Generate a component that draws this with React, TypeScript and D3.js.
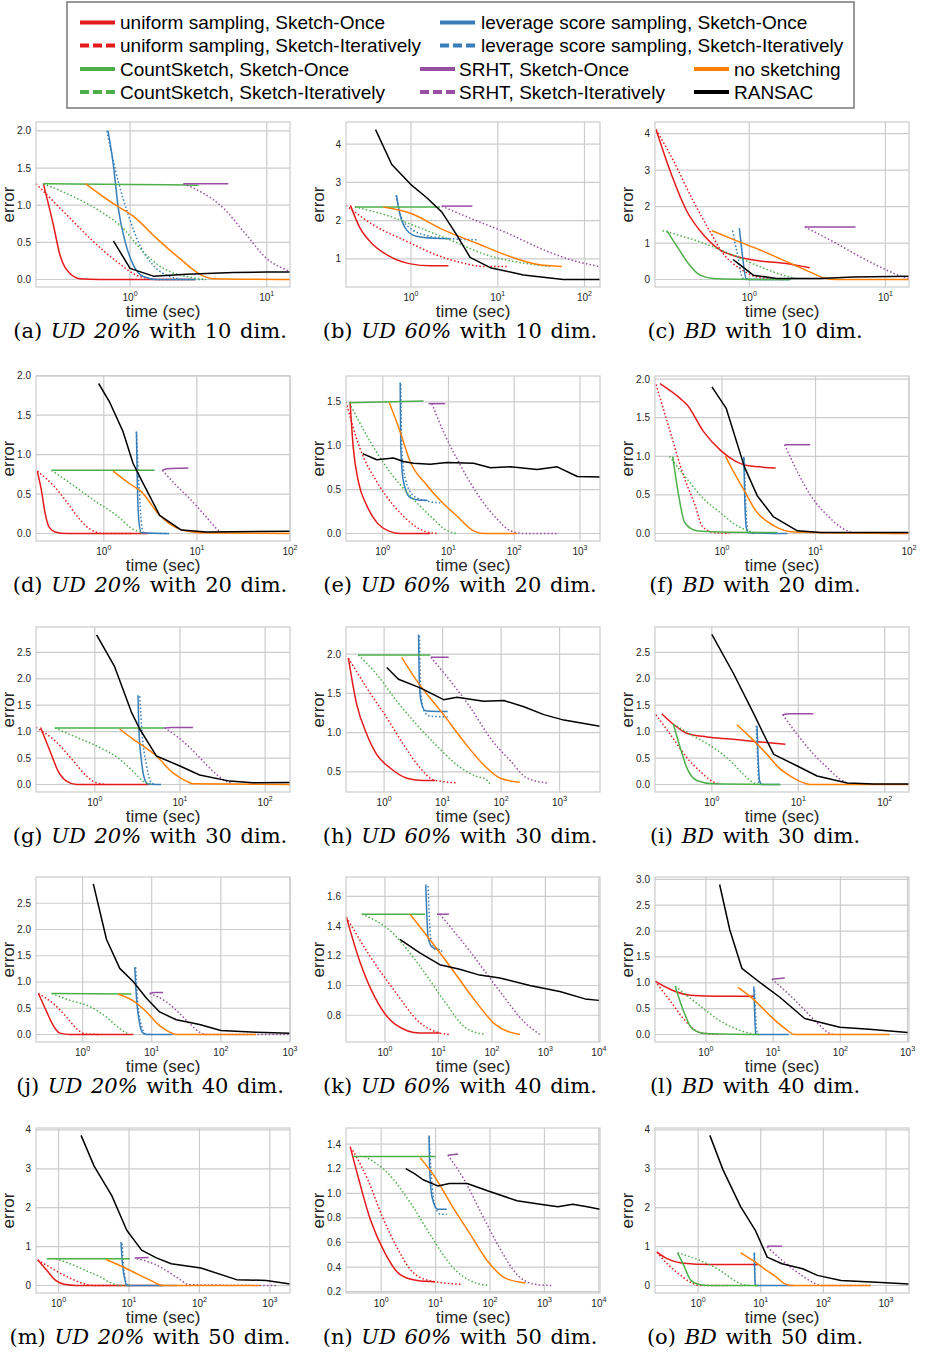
import React from 'react';
import * as d3 from 'd3';

type Pt = [number, number];
type PanelData = Record<string, Pt[]>;

// series definitions (legend order)
const SERIES = [
  {key: 'uo', label: 'uniform sampling, Sketch-Once', color: '#e41a1c', dotted: false},
  {key: 'ui', label: 'uniform sampling, Sketch-Iteratively', color: '#e41a1c', dotted: true},
  {key: 'lo', label: 'leverage score sampling, Sketch-Once', color: '#377eb8', dotted: false},
  {key: 'li', label: 'leverage score sampling, Sketch-Iteratively', color: '#377eb8', dotted: true},
  {key: 'co', label: 'CountSketch, Sketch-Once', color: '#4daf4a', dotted: false},
  {key: 'ci', label: 'CountSketch, Sketch-Iteratively', color: '#4daf4a', dotted: true},
  {key: 'so', label: 'SRHT, Sketch-Once', color: '#984ea3', dotted: false},
  {key: 'si', label: 'SRHT, Sketch-Iteratively', color: '#984ea3', dotted: true},
  {key: 'ns', label: 'no sketching', color: '#ff7f00', dotted: false},
  {key: 'ra', label: 'RANSAC', color: '#000000', dotted: false},
];

const DATASETS = ['UD 20%', 'UD 60%', 'BD'];
const DIMS = [10, 20, 30, 40, 50];
const LETTERS = 'abcdefghijklmno'.split('');

const X_DOMAINS: Pt[] = [
  [0.205, 14.8], [0.178, 151], [0.203, 14.9],
  [0.187, 100], [0.276, 2018], [0.192, 100],
  [0.204, 196], [0.223, 4910], [0.22, 191],
  [0.212, 1000], [0.187, 10500], [0.175, 1050],
  [0.479, 1930], [0.226, 10500], [0.205, 2330],
];
const Y_DOMAINS: Pt[] = [
  [-0.101, 2.12], [0.265, 4.58], [-0.205, 4.32],
  [-0.095, 1.995], [-0.0855, 1.795], [-0.097, 2.04],
  [-0.142, 2.98], [0.2445, 2.3455], [-0.142, 2.98],
  [-0.143, 3.0], [0.62, 1.73], [-0.145, 3.045],
  [-0.193, 4.05], [0.189, 1.531], [-0.193, 4.05],
];
const Y_TICKS: number[][] = [
  [0, 0.5, 1, 1.5, 2], [1, 2, 3, 4], [0, 1, 2, 3, 4],
  [0, 0.5, 1, 1.5, 2], [0, 0.5, 1, 1.5], [0, 0.5, 1, 1.5, 2],
  [0, 0.5, 1, 1.5, 2, 2.5], [0.5, 1, 1.5, 2], [0, 0.5, 1, 1.5, 2, 2.5],
  [0, 0.5, 1, 1.5, 2, 2.5], [0.8, 1, 1.2, 1.4, 1.6], [0, 0.5, 1, 1.5, 2, 2.5, 3],
  [0, 1, 2, 3, 4], [0.2, 0.4, 0.6, 0.8, 1, 1.2, 1.4], [0, 1, 2, 3, 4],
];

// (a) UD 20%, 10 dim
const panelA: PanelData = {
  uo: [[0.232, 1.29], [0.275, 0.73], [0.307, 0.33], [0.364, 0.08], [0.43, 0.01], [0.6, 0], [3.0, 0]],
  ui: [[0.205, 1.29], [0.344, 0.87], [0.54, 0.51], [0.8, 0.24], [1.18, 0.04], [1.66, 0], [2.5, 0]],
  lo: [[0.69, 2.0], [0.755, 1.54], [0.82, 0.96], [0.92, 0.51], [1.06, 0.19], [1.25, 0.04], [1.57, 0], [3.0, 0]],
  li: [[0.675, 2.0], [0.82, 1.32], [0.97, 0.87], [1.18, 0.46], [1.48, 0.19], [1.96, 0.04], [2.6, 0], [3.5, 0]],
  co: [[0.232, 1.29], [1.0, 1.28], [3.17, 1.27]],
  ci: [[0.232, 1.29], [0.41, 1.09], [0.64, 0.89], [0.845, 0.73], [1.25, 0.37], [1.75, 0.15], [2.6, 0.04], [3.6, 0]],
  so: [[2.46, 1.29], [5.24, 1.29]],
  si: [[2.46, 1.29], [4.82, 0.96], [7.1, 0.6], [10, 0.28], [14.8, 0.1], [17, 0.03]],
  ns: [[0.47, 1.29], [0.755, 1.02], [1.06, 0.85], [1.57, 0.55], [2.32, 0.28], [3.25, 0.07], [4.07, 0.01], [15, 0]],
  ra: [[0.755, 0.52], [1.0, 0.15], [1.48, 0.045], [2.6, 0.07], [5.7, 0.094], [10, 0.1], [15, 0.1]],
};
// (b) UD 60%, 10 dim
const panelB: PanelData = {
  uo: [[0.2, 2.4], [0.258, 1.81], [0.367, 1.37], [0.573, 1.06], [0.99, 0.87], [1.66, 0.82], [2.7, 0.82]],
  ui: [[0.178, 2.4], [0.367, 1.89], [0.89, 1.46], [1.98, 1.1], [4.0, 0.89], [6.8, 0.8], [13.3, 0.8]],
  lo: [[0.68, 2.66], [0.746, 2.16], [0.89, 1.76], [1.16, 1.59], [1.81, 1.54], [2.82, 1.53]],
  li: [[0.67, 2.66], [0.78, 2.07], [0.97, 1.81], [1.66, 1.59], [2.8, 1.53], [5.73, 1.5]],
  co: [[0.226, 2.36], [2.16, 2.36]],
  ci: [[0.226, 2.36], [0.573, 2.11], [1.27, 1.81], [3.08, 1.46], [7.5, 1.1], [19.8, 0.89], [40, 0.8]],
  so: [[2.26, 2.38], [5.1, 2.38]],
  si: [[2.26, 2.38], [5.24, 2.03], [12.7, 1.68], [33.6, 1.24], [81.6, 0.93], [151, 0.8], [170, 0.78]],
  ns: [[0.48, 2.36], [0.97, 2.2], [2.36, 1.76], [5.7, 1.41], [13.9, 1.06], [28, 0.86], [54.8, 0.8]],
  ra: [[0.39, 4.38], [0.6, 3.47], [0.99, 2.95], [1.52, 2.6], [2.26, 2.23], [3.36, 1.63], [4.8, 1.04], [8.2, 0.77], [19.8, 0.58], [57, 0.46], [160, 0.46]],
};
// (c) BD, 10 dim
const panelC: PanelData = {
  uo: [[0.207, 4.11], [0.262, 2.98], [0.347, 1.88], [0.46, 1.23], [0.61, 0.81], [0.81, 0.63], [1.2, 0.51], [1.88, 0.44], [2.78, 0.32]],
  ui: [[0.207, 4.11], [0.277, 3.26], [0.388, 2.15], [0.514, 1.32], [0.64, 0.72], [0.855, 0.3], [1.07, 0.1], [1.34, 0.03], [1.8, 0]],
  lo: [[0.845, 1.41], [0.89, 0.67], [0.945, 0.03], [1.0, 0], [2.0, 0]],
  li: [[0.755, 1.34], [0.82, 0.67], [0.89, 0.05], [0.95, 0], [2.0, 0]],
  co: [[0.248, 1.34], [0.3, 0.86], [0.357, 0.44], [0.435, 0.12], [0.545, 0.03], [0.8, 0.01], [2.0, 0]],
  ci: [[0.231, 1.34], [0.46, 1.0], [0.76, 0.67], [1.2, 0.35], [1.77, 0.12], [2.2, 0.03]],
  so: [[2.56, 1.44], [6.03, 1.44]],
  si: [[2.56, 1.44], [4.13, 1.04], [6.48, 0.63], [10.2, 0.26], [13.5, 0.07], [15, 0.03]],
  ns: [[0.53, 1.34], [0.81, 1.06], [1.2, 0.81], [1.88, 0.49], [2.78, 0.21], [3.49, 0.05], [4.4, 0], [15, 0]],
  ra: [[0.76, 0.55], [0.855, 0.4], [1.07, 0.12], [1.59, 0.03], [3.3, 0.03], [5.8, 0.07], [15, 0.09]],
};
// (d) UD 20%, 20 dim
const panelD: PanelData = {
  uo: [[0.193, 0.79], [0.215, 0.53], [0.233, 0.27], [0.26, 0.077], [0.3, 0.02], [0.4, 0], [3, 0]],
  ui: [[0.193, 0.79], [0.286, 0.61], [0.4, 0.4], [0.55, 0.18], [0.71, 0.055], [1.0, 0], [2, 0]],
  lo: [[2.24, 1.29], [2.29, 0.65], [2.39, 0.14], [2.53, 0.01], [5, 0]],
  li: [[2.24, 1.29], [2.39, 0.61], [2.53, 0.14], [2.68, 0.01], [5, 0]],
  co: [[0.275, 0.8], [3.52, 0.8]],
  ci: [[0.275, 0.8], [0.47, 0.61], [0.83, 0.4], [1.37, 0.23], [2.06, 0.055], [2.64, 0.01]],
  so: [[4.25, 0.8], [4.8, 0.82], [8.1, 0.83]],
  si: [[4.25, 0.8], [6.0, 0.61], [9.06, 0.4], [12.6, 0.21], [17.5, 0.03], [20, 0]],
  ns: [[1.26, 0.79], [1.9, 0.63], [2.53, 0.53], [3.98, 0.23], [6.5, 0.055], [10.7, 0.01], [100, 0]],
  ra: [[0.88, 1.9], [1.16, 1.66], [1.61, 1.29], [2.06, 0.89], [2.53, 0.68], [3.98, 0.23], [6.8, 0.043], [12.6, 0.02], [100, 0.03]],
};
// (e) UD 60%, 20 dim
const panelE: PanelData = {
  uo: [[0.318, 1.5], [0.357, 0.97], [0.426, 0.59], [0.57, 0.32], [0.81, 0.127], [1.22, 0.03], [1.84, 0], [5.3, 0]],
  ui: [[0.276, 1.5], [0.45, 0.97], [0.81, 0.59], [1.46, 0.32], [2.61, 0.127], [4.17, 0.03], [6.6, 0]],
  lo: [[1.84, 1.72], [1.88, 0.97], [2.07, 0.59], [2.61, 0.41], [3.7, 0.38], [4.8, 0.38]],
  li: [[1.88, 1.7], [1.95, 0.97], [2.19, 0.63], [2.94, 0.43], [4.68, 0.37], [7.5, 0.35]],
  co: [[0.31, 1.49], [4.17, 1.51]],
  ci: [[0.31, 1.49], [0.64, 1.05], [1.29, 0.7], [2.61, 0.43], [5.27, 0.2], [9.7, 0.03], [13.4, 0]],
  so: [[4.97, 1.48], [8.9, 1.48]],
  si: [[5.6, 1.48], [8.4, 1.16], [15.1, 0.78], [30.5, 0.4], [54.8, 0.165], [87.5, 0.03], [140, 0], [478, 0]],
  ns: [[1.26, 1.49], [1.84, 1.16], [2.61, 0.82], [4.68, 0.55], [8.4, 0.34], [13.4, 0.2], [24.1, 0.03], [34, 0], [110, 0]],
  ra: [[0.495, 0.91], [0.81, 0.84], [1.45, 0.86], [2.07, 0.82], [2.94, 0.8], [5.27, 0.79], [9.46, 0.81], [24.1, 0.8], [43.4, 0.75], [87.5, 0.76], [223, 0.73], [451, 0.76], [910, 0.65], [2018, 0.645]],
};
// (f) BD, 20 dim
const panelF: PanelData = {
  uo: [[0.217, 1.94], [0.356, 1.75], [0.42, 1.67], [0.635, 1.32], [0.96, 1.08], [1.33, 0.95], [1.86, 0.88], [3.74, 0.85]],
  ui: [[0.197, 1.93], [0.279, 1.32], [0.387, 0.75], [0.517, 0.36], [0.61, 0.1], [0.81, 0.013], [1.2, 0]],
  lo: [[1.71, 0.99], [1.75, 0.45], [1.83, 0.057], [1.93, 0.01], [5, 0]],
  li: [[1.73, 0.97], [1.8, 0.36], [1.89, 0.03], [2.2, 0]],
  co: [[0.297, 1.0], [0.34, 0.53], [0.4, 0.14], [0.54, 0.035], [0.96, 0.02], [3.9, 0.013]],
  ci: [[0.274, 1.0], [0.42, 0.71], [0.635, 0.45], [0.96, 0.27], [1.45, 0.1], [2.19, 0.013]],
  so: [[4.68, 1.15], [8.77, 1.15]],
  si: [[4.68, 1.15], [6.4, 0.8], [8.9, 0.49], [13.5, 0.23], [18.7, 0.08], [26, 0.01], [100, 0]],
  ns: [[1.09, 1.0], [1.33, 0.8], [1.78, 0.53], [2.28, 0.3], [3.6, 0.1], [5.9, 0.02], [100, 0]],
  ra: [[0.78, 1.9], [1.11, 1.62], [1.74, 0.86], [2.38, 0.49], [3.53, 0.22], [6.4, 0.035], [11.4, 0.013], [100, 0.013]],
};
// (g) UD 20%, 30 dim
const panelG: PanelData = {
  uo: [[0.231, 1.08], [0.297, 0.64], [0.372, 0.25], [0.465, 0.064], [0.61, 0], [4.4, 0]],
  ui: [[0.204, 1.08], [0.34, 0.83], [0.557, 0.45], [0.8, 0.16], [1.05, 0.03], [1.37, 0]],
  lo: [[3.22, 1.69], [3.3, 1.02], [3.53, 0.45], [3.85, 0.1], [4.2, 0.01], [6, 0]],
  li: [[3.37, 1.67], [3.6, 0.95], [4.03, 0.38], [4.48, 0.064], [5.0, 0]],
  co: [[0.34, 1.07], [6.6, 1.07]],
  ci: [[0.34, 1.07], [0.557, 0.92], [1.14, 0.7], [1.96, 0.48], [2.81, 0.25], [3.69, 0.064], [4.8, 0]],
  so: [[6.6, 1.07], [8, 1.08], [14.2, 1.08]],
  si: [[6.6, 1.07], [9.06, 0.92], [13, 0.7], [17, 0.51], [24.4, 0.25], [31.9, 0.095], [41.8, 0.013]],
  ns: [[1.96, 1.05], [2.81, 0.86], [3.69, 0.73], [5.28, 0.54], [8.28, 0.22], [11.9, 0.064], [14.2, 0.013], [196, 0]],
  ra: [[1.05, 2.83], [1.71, 2.23], [2.69, 1.37], [3.37, 1.05], [5.28, 0.54], [10, 0.35], [17, 0.18], [38.2, 0.064], [71.7, 0.032], [200, 0.038]],
};
// (h) UD 60%, 30 dim
const panelH: PanelData = {
  uo: [[0.245, 1.95], [0.34, 1.36], [0.505, 0.98], [0.75, 0.72], [1.27, 0.55], [2.45, 0.42], [4.7, 0.39], [7.5, 0.39]],
  ui: [[0.245, 1.95], [0.505, 1.57], [1.11, 1.19], [2.14, 0.85], [4.14, 0.55], [7.0, 0.4], [17.6, 0.36]],
  lo: [[3.88, 2.25], [4.03, 1.57], [4.4, 1.36], [5.04, 1.28], [8.0, 1.27], [12.2, 1.27]],
  li: [[4.03, 2.23], [4.25, 1.49], [5.04, 1.25], [6.15, 1.21], [12.2, 1.2]],
  co: [[0.363, 1.99], [6.15, 1.99]],
  ci: [[0.363, 1.99], [0.75, 1.74], [1.65, 1.4], [3.63, 1.1], [8.0, 0.83], [17.6, 0.59], [38.8, 0.44], [54, 0.41], [65.6, 0.34]],
  so: [[6.3, 1.96], [12.7, 1.96]],
  si: [[6.3, 1.96], [13.5, 1.66], [29.8, 1.32], [65.6, 0.93], [145, 0.64], [279, 0.42], [615, 0.36]],
  ns: [[2.0, 1.96], [3.63, 1.66], [10.4, 1.23], [22.9, 0.89], [50.5, 0.59], [97.5, 0.42], [209, 0.37]],
  ra: [[1.11, 1.83], [1.76, 1.68], [4.14, 1.57], [10.4, 1.42], [17.6, 1.45], [50.5, 1.4], [111, 1.41], [245, 1.33], [539, 1.23], [1186, 1.16], [4910, 1.08]],
};
// (i) BD, 30 dim
const panelI: PanelData = {
  uo: [[0.263, 1.34], [0.359, 1.14], [0.513, 0.97], [0.875, 0.9], [1.63, 0.86], [2.55, 0.83], [3.98, 0.8], [7.1, 0.76]],
  ui: [[0.225, 1.32], [0.33, 0.95], [0.513, 0.51], [0.73, 0.25], [1.0, 0.064], [1.25, 0]],
  lo: [[3.33, 1.11], [3.42, 0.57], [3.57, 0.064], [3.8, 0], [6.2, 0]],
  li: [[3.27, 1.11], [3.39, 0.45], [3.51, 0.013], [4, 0]],
  co: [[0.359, 1.14], [0.43, 0.7], [0.513, 0.32], [0.67, 0.076], [1.04, 0.013], [6.2, 0]],
  ci: [[0.359, 1.14], [0.61, 0.92], [1.04, 0.7], [1.63, 0.45], [2.33, 0.19], [3.04, 0.03], [3.64, 0]],
  so: [[6.6, 1.32], [8, 1.34], [14.9, 1.34]],
  si: [[6.6, 1.32], [9.7, 0.95], [15.1, 0.57], [21.6, 0.32], [30.8, 0.095], [40.5, 0]],
  ns: [[1.95, 1.13], [3.05, 0.83], [4.35, 0.57], [5.94, 0.32], [8.1, 0.16], [11.6, 0.03], [13.8, 0], [191, 0]],
  ra: [[1.0, 2.84], [1.78, 2.1], [3.05, 1.34], [3.98, 0.95], [5.2, 0.57], [9.75, 0.35], [16.5, 0.16], [36.9, 0.03], [75, 0.01], [200, 0.01]],
};
// (j) UD 20%, 40 dim
const panelJ: PanelData = {
  uo: [[0.23, 0.78], [0.303, 0.43], [0.377, 0.17], [0.47, 0.026], [0.66, 0], [5.4, 0]],
  ui: [[0.23, 0.78], [0.377, 0.59], [0.588, 0.33], [0.82, 0.11], [1.08, 0.013], [1.78, 0]],
  lo: [[5.69, 1.28], [6.0, 0.72], [6.56, 0.27], [7.3, 0.045], [8.4, 0], [20, 0]],
  li: [[5.87, 1.28], [6.3, 0.59], [7.1, 0.17], [8.2, 0.013], [10, 0]],
  co: [[0.357, 0.78], [5.09, 0.77]],
  ci: [[0.357, 0.78], [0.66, 0.65], [1.28, 0.53], [2.22, 0.33], [3.45, 0.11], [4.55, 0.013]],
  so: [[9.36, 0.78], [11, 0.8], [14.6, 0.8]],
  si: [[9.36, 0.78], [16.3, 0.62], [25.3, 0.4], [35.3, 0.21], [49.2, 0.045], [61.6, 0], [1000, 0]],
  ns: [[3.27, 0.77], [6.0, 0.6], [8.4, 0.43], [13, 0.17], [18.2, 0.045], [22.7, 0], [323, 0]],
  ra: [[1.43, 2.87], [2.22, 1.81], [3.45, 1.26], [5.38, 1.01], [8.4, 0.69], [13, 0.43], [22.7, 0.28], [49.2, 0.19], [100, 0.077], [323, 0.045], [1000, 0.026]],
};
// (k) UD 60%, 40 dim
const panelK: PanelData = {
  uo: [[0.19, 1.46], [0.34, 1.16], [0.65, 0.92], [1.54, 0.74], [4.5, 0.68], [10.6, 0.68]],
  ui: [[0.19, 1.46], [0.52, 1.2], [1.54, 0.96], [4.5, 0.75], [10.6, 0.68], [16, 0.67]],
  lo: [[5.8, 1.68], [6.4, 1.33], [7.5, 1.26], [10.6, 1.24]],
  li: [[6.4, 1.67], [7.2, 1.32], [9, 1.24], [13, 1.23]],
  co: [[0.37, 1.48], [5.6, 1.48]],
  ci: [[0.37, 1.48], [1.24, 1.37], [4.5, 1.13], [13.2, 0.89], [31, 0.72], [74, 0.67]],
  so: [[9.4, 1.48], [15.7, 1.48]],
  si: [[10.6, 1.48], [38.9, 1.23], [141, 0.96], [414, 0.75], [790, 0.67]],
  ns: [[2.94, 1.48], [6.9, 1.31], [16.4, 1.13], [48, 0.9], [114, 0.74], [334, 0.67]],
  ra: [[1.9, 1.31], [4.5, 1.22], [10.6, 1.14], [25, 1.11], [59, 1.07], [141, 1.05], [512, 1.0], [1860, 0.96], [5500, 0.91], [10000, 0.9]],
};
// (l) BD, 40 dim
const panelL: PanelData = {
  uo: [[0.175, 1.03], [0.31, 0.86], [0.58, 0.76], [1.6, 0.74], [5.3, 0.74]],
  ui: [[0.175, 1.03], [0.29, 0.66], [0.49, 0.27], [0.81, 0.04], [1.6, 0]],
  lo: [[5.17, 0.93], [5.3, 0.47], [5.5, 0.02], [6, 0], [17, 0]],
  li: [[5.3, 0.86], [5.7, 0.08], [6, 0]],
  co: [[0.35, 0.93], [0.46, 0.47], [0.62, 0.12], [0.97, 0.02], [6.3, 0]],
  ci: [[0.35, 0.93], [0.81, 0.56], [1.6, 0.27], [3.2, 0.08], [5.3, 0]],
  so: [[9.6, 1.07], [14.9, 1.09]],
  si: [[9.6, 1.07], [17.7, 0.76], [29.5, 0.47], [49, 0.18], [69.5, 0.02], [80, 0]],
  ns: [[3.0, 0.91], [5.3, 0.66], [8.9, 0.37], [14.9, 0.12], [21, 0], [540, 0]],
  ra: [[1.6, 2.9], [2.27, 2.02], [3.43, 1.28], [6.3, 1.01], [12.6, 0.72], [29.5, 0.31], [98, 0.14], [270, 0.1], [1000, 0.04]],
};
// (m) UD 20%, 50 dim
const panelM: PanelData = {
  uo: [[0.507, 0.66], [0.68, 0.39], [0.91, 0.13], [1.21, 0.03], [1.79, 0], [30, 0]],
  ui: [[0.507, 0.66], [0.82, 0.43], [1.34, 0.22], [2.17, 0.06], [3.2, 0], [10, 0]],
  lo: [[7.7, 1.12], [8.0, 0.65], [8.8, 0.13], [9.3, 0], [48, 0]],
  li: [[8.0, 1.08], [8.4, 0.47], [9.3, 0.04], [10, 0]],
  co: [[0.68, 0.69], [10.3, 0.69]],
  ci: [[0.91, 0.69], [1.47, 0.56], [2.4, 0.39], [3.9, 0.22], [5.7, 0.06], [7.7, 0], [10, 0]],
  so: [[12, 0.71], [19, 0.72]],
  si: [[12.9, 0.69], [22.3, 0.56], [36.3, 0.35], [53.3, 0.15], [71, 0.02], [1300, 0]],
  ns: [[4.72, 0.67], [8.4, 0.47], [13.7, 0.28], [20.2, 0.13], [27, 0.02], [30, 0], [730, 0]],
  ra: [[2.09, 3.86], [3.2, 3.07], [5.7, 2.31], [9.3, 1.42], [15.1, 0.91], [24.5, 0.71], [39.8, 0.56], [105, 0.45], [336, 0.15], [890, 0.13], [1930, 0.04]],
};
// (n) UD 60%, 50 dim
const panelN: PanelData = {
  uo: [[0.27, 1.38], [0.39, 1.11], [0.64, 0.78], [1.19, 0.51], [2.2, 0.34], [4.6, 0.29], [9.8, 0.28]],
  ui: [[0.3, 1.35], [0.57, 1.11], [1.05, 0.81], [1.95, 0.56], [3.6, 0.37], [7.6, 0.29], [29.6, 0.26]],
  lo: [[7.6, 1.47], [7.8, 1.19], [8.6, 0.97], [11, 0.87], [16, 0.87]],
  li: [[7.6, 1.46], [8.4, 1.13], [9.8, 0.89], [12.5, 0.83], [16, 0.83]],
  co: [[0.3, 1.3], [10, 1.3]],
  ci: [[0.5, 1.3], [1.35, 1.16], [3.6, 0.91], [8.6, 0.64], [20.5, 0.4], [43, 0.29], [95, 0.25]],
  so: [[16.8, 1.31], [26, 1.32]],
  si: [[16.8, 1.31], [33.6, 1.11], [70.7, 0.83], [148, 0.56], [313, 0.34], [655, 0.26], [1380, 0.25]],
  ns: [[5.2, 1.29], [9.8, 1.13], [20.5, 0.89], [43, 0.67], [90, 0.45], [190, 0.31], [450, 0.27]],
  ra: [[2.83, 1.2], [4.1, 1.16], [5.9, 1.11], [11, 1.06], [18, 1.08], [38, 1.08], [90, 1.02], [313, 0.94], [840, 0.91], [1770, 0.89], [3300, 0.91], [6100, 0.89], [10500, 0.87]],
};
// (o) BD, 50 dim
const panelO: PanelData = {
  uo: [[0.22, 0.86], [0.32, 0.69], [0.54, 0.58], [1.61, 0.54], [4.8, 0.54], [9.2, 0.54]],
  ui: [[0.22, 0.86], [0.32, 0.56], [0.49, 0.3], [0.75, 0.086], [1.04, 0], [3, 0]],
  lo: [[7.9, 0.85], [8.0, 0.39], [8.2, 0], [33, 0]],
  li: [[7.9, 0.82], [8.2, 0], [10, 0]],
  co: [[0.47, 0.84], [0.61, 0.47], [0.75, 0.15], [1.04, 0.026], [1.5, 0], [9.2, 0]],
  ci: [[0.47, 0.84], [1.04, 0.65], [2.23, 0.39], [3.8, 0.13], [5.3, 0.02], [7, 0]],
  so: [[12.7, 1.01], [21.8, 1.01]],
  si: [[12.7, 0.99], [21.8, 0.65], [37.6, 0.35], [64.5, 0.1], [90, 0], [570, 0]],
  ns: [[4.77, 0.84], [7.4, 0.65], [11.4, 0.43], [17.6, 0.22], [24.4, 0.04], [30, 0], [570, 0]],
  ra: [[1.54, 3.86], [2.49, 2.98], [4.77, 2.03], [8.2, 1.42], [12.7, 0.73], [21.8, 0.56], [46.7, 0.43], [80.5, 0.26], [191, 0.13], [700, 0.086], [2330, 0.04]],
};

const PANELS = [panelA, panelB, panelC, panelD, panelE, panelF, panelG, panelH, panelI, panelJ, panelK, panelL, panelM, panelN, panelO];

const COLS = [36, 346, 655];
const ROWS = [122, 376, 627, 877, 1128];
const PW = 254;
const PH = 165;
const CAPTION_X = [150, 460, 755];
const SANS = 'Liberation Sans, Arial, sans-serif';
const TEXT = '#262626';
const GRID = '#cccccc';

// legend slot positions: [lineX, textX, row]
const LEGEND_SLOTS: [number, number, number][] = [
  [80, 120, 0], [80, 120, 1], [440, 481, 0], [440, 481, 1],
  [80, 120, 2], [80, 120, 3], [420, 459, 2], [420, 459, 3],
  [694, 734, 2], [694, 734, 3],
];
const LEGEND_ROW_Y = [22.5, 45.5, 69, 92];

function Panel({i}: {i: number}) {
  const col = i % 3;
  const row = Math.floor(i / 3);
  const left = COLS[col];
  const top = ROWS[row];
  const xd = X_DOMAINS[i];
  const x = d3.scaleLog().domain(xd).range([0, PW]);
  const y = d3.scaleLinear().domain(Y_DOMAINS[i]).range([PH, 0]);
  const decades = d3.range(Math.ceil(Math.log10(xd[0]) - 1e-9), Math.floor(Math.log10(xd[1]) + 1e-9) + 1);
  const yt = Y_TICKS[i];
  const fmt = yt.every(v => Number.isInteger(v)) ? d3.format('d') : d3.format('.1f');
  const data = PANELS[i];
  const smooth = d3.line<Pt>().x(d => x(d[0])).y(d => y(d[1])).curve(d3.curveMonotoneX);
  const straight = d3.line<Pt>().x(d => x(d[0])).y(d => y(d[1]));
  const clipId = `clip-${i}`;

  return (
    <g transform={`translate(${left},${top})`}>
      <defs>
        <clipPath id={clipId}><rect x={0} y={0} width={PW} height={PH} /></clipPath>
      </defs>
      <rect x={0} y={0} width={PW} height={PH} fill="#fff" />
      {yt.map(v => (
        <line key={'gy' + v} x1={0} x2={PW} y1={y(v)} y2={y(v)} stroke={GRID} strokeWidth={1.2} />
      ))}
      {decades.map(k => (
        <line key={'gx' + k} x1={x(Math.pow(10, k))} x2={x(Math.pow(10, k))} y1={0} y2={PH} stroke={GRID} strokeWidth={1.2} />
      ))}
      <g clipPath={`url(#${clipId})`}>
        {SERIES.map(s => {
          const pts = data[s.key];
          if (!pts) return null;
          return (
            <path key={s.key} d={(s.key === 'ra' ? straight : smooth)(pts) || ''} fill="none"
              stroke={s.color} strokeWidth={1.5}
              strokeDasharray={s.dotted ? '1.5,2.2' : undefined}
              strokeLinejoin="round" />
          );
        })}
      </g>
      <rect x={0} y={0} width={PW} height={PH} fill="none" stroke={GRID} strokeWidth={1.2} />
      {yt.map(v => (
        <text key={'ty' + v} x={-5} y={y(v)} dy="0.35em" textAnchor="end" fontSize={10}
          fontFamily={SANS} fill={TEXT}>{fmt(v)}</text>
      ))}
      {decades.map(k => (
        <text key={'tx' + k} x={x(Math.pow(10, k))} y={PH + 13.5} textAnchor="middle" fontSize={10}
          fontFamily={SANS} fill={TEXT}>
          10<tspan dy={-5} fontSize={7}>{k}</tspan>
        </text>
      ))}
      <text x={PW / 2} y={PH + 29.5} textAnchor="middle" fontSize={17} fontFamily={SANS} fill={TEXT}>time (sec)</text>
      <text transform={`translate(${-22},${PH / 2}) rotate(-90)`} textAnchor="middle" fontSize={17}
        fontFamily={SANS} fill={TEXT}>error</text>
      <text x={CAPTION_X[col] - left} y={PH + 51} textAnchor="middle" fontSize={21}
        fontFamily="DejaVu Serif, serif" fill="#000" wordSpacing={2}>
        {`(${LETTERS[i]}) `}
        <tspan fontStyle="italic">{DATASETS[col]}</tspan>
        {` with ${DIMS[row]} dim.`}
      </text>
    </g>
  );
}

function Legend() {
  return (
    <g>
      <rect x={67} y={2} width={787} height={106} fill="#fff" stroke="#808080" strokeWidth={1.6} />
      {SERIES.map((s, idx) => {
        const [lx, tx, r] = LEGEND_SLOTS[idx];
        const yy = LEGEND_ROW_Y[r];
        return (
          <g key={s.key}>
            <line x1={lx} x2={lx + 35} y1={yy} y2={yy} stroke={s.color} strokeWidth={4}
              strokeDasharray={s.dotted ? '9,4' : undefined} />
            <text x={tx} y={yy} dy="0.35em" fontSize={19} fontFamily={SANS} fill="#000">{s.label}</text>
          </g>
        );
      })}
    </g>
  );
}

export default function App() {
  return (
    <div style={{position: 'absolute', left: 0, top: 0}}>
      <svg width={928} height={1358} style={{display: 'block', background: '#fff'}}>
        <rect width={928} height={1358} fill="#fff" />
        <Legend />
        {PANELS.map((_, i) => <Panel key={i} i={i} />)}
      </svg>
    </div>
  );
}
